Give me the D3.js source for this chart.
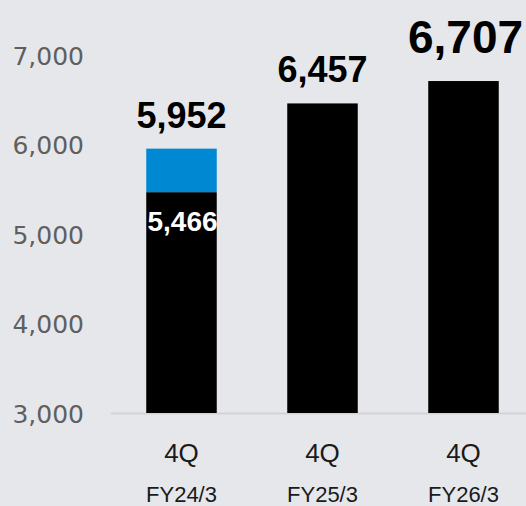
<!DOCTYPE html>
<html>
<head>
<meta charset="utf-8">
<script src="https://cdn.jsdelivr.net/npm/d3@7"></script>
<style>
  html, body { margin: 0; padding: 0; background: #e6e7eb; }
  svg { display: block; }
</style>
</head>
<body>
<script>
const quarters = ["4Q", "4Q", "4Q"];
const fiscalYears = ["FY24/3", "FY25/3", "FY26/3"];
const baseValues = [5466, 6457, 6707];
const totalValues = [5952, 6457, 6707];
const yTicks = [3000, 4000, 5000, 6000, 7000];

const W = 526, H = 506;
const svg = d3.select("body").append("svg").attr("width", W).attr("height", H);
svg.append("rect").attr("width", W).attr("height", H).attr("fill", "#e6e7eb");

const y = d3.scaleLinear().domain([3000, 7000]).range([413, 54.8]);
const x = d3.scaleBand().domain(fiscalYears).range([111, 534]).paddingInner(0.5).paddingOuter(0.25);

// baseline axis line
svg.append("line").attr("x1", 111).attr("x2", W).attr("y1", y(3000) + 0.5).attr("y2", y(3000) + 0.5)
  .attr("stroke", "#d3d4d7").attr("stroke-width", 2);

// y axis labels
const yAxis = d3.axisLeft(y).tickValues(yTicks).tickFormat(d3.format(",")).tickSize(0).tickPadding(0);
const gy = svg.append("g").attr("transform", "translate(84,0)").call(yAxis);
gy.select(".domain").remove();
gy.selectAll("text").attr("font-family", "DejaVu Sans").attr("font-size", 25)
  .attr("fill", "#5f5f5f").attr("dy", "0.37em");

// bars
const data = fiscalYears.map((fy, i) => ({ fy, q: quarters[i], base: baseValues[i], total: totalValues[i] }));
svg.selectAll(".base").data(data).join("rect").attr("class", "base")
  .attr("x", d => x(d.fy)).attr("width", x.bandwidth())
  .attr("y", d => y(d.base)).attr("height", d => y(3000) - y(d.base)).attr("fill", "#000");
svg.selectAll(".extra").data(data.filter(d => d.total > d.base)).join("rect").attr("class", "extra")
  .attr("x", d => x(d.fy)).attr("width", x.bandwidth())
  .attr("y", d => y(d.total)).attr("height", d => y(d.base) - y(d.total)).attr("fill", "#0088d2");

// total labels
const fmt = d3.format(",");
svg.selectAll(".tot").data(data).join("text").attr("class", "tot")
  .attr("x", d => x(d.fy) + x.bandwidth() / 2 + (d.fy === "FY26/3" ? 2 : 0))
  .attr("y", d => y(d.total) - (d.fy === "FY26/3" ? 28 : 21))
  .attr("text-anchor", "middle").attr("font-family", "Liberation Sans, Arial").attr("font-weight", "bold")
  .attr("font-size", d => d.fy === "FY26/3" ? 46 : 36).attr("fill", "#000")
  .text(d => fmt(d.total));

// inner label for stacked bar
svg.selectAll(".inner").data(data.filter(d => d.total > d.base)).join("text").attr("class", "inner")
  .attr("x", d => x(d.fy) + x.bandwidth() / 2 + 1).attr("y", d => y(d.base) + 38.5)
  .attr("text-anchor", "middle").attr("font-family", "Liberation Sans, Arial").attr("font-weight", "bold")
  .attr("font-size", 28).attr("fill", "#fff").text(d => fmt(d.base));

// category labels
svg.selectAll(".q").data(data).join("text").attr("class", "q")
  .attr("x", d => x(d.fy) + x.bandwidth() / 2).attr("y", 461.5)
  .attr("text-anchor", "middle").attr("font-family", "Liberation Sans, Arial")
  .attr("font-size", 26).attr("fill", "#1a1a1a").text(d => d.q);
svg.selectAll(".fy").data(data).join("text").attr("class", "fy")
  .attr("x", d => x(d.fy) + x.bandwidth() / 2).attr("y", 501.5)
  .attr("text-anchor", "middle").attr("font-family", "Liberation Sans, Arial")
  .attr("font-size", 22).attr("fill", "#1a1a1a").text(d => d.fy);
</script>
</body>
</html>
